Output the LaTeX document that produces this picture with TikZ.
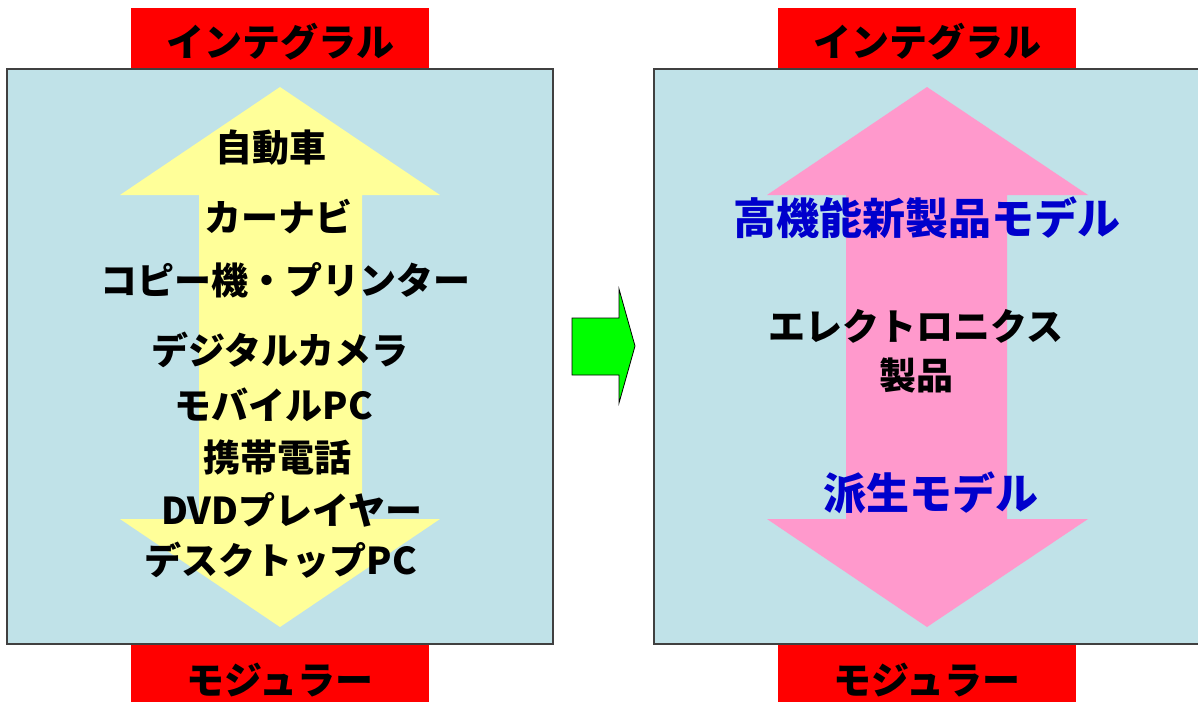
\documentclass[tikz,border=0pt]{standalone}
\usepackage{fontspec}
\setmainfont{Noto Sans CJK JP}
\definecolor{panelblue}{RGB}{192,226,232}
\definecolor{arrowyellow}{RGB}{255,255,153}
\definecolor{arrowpink}{RGB}{255,153,204}
\definecolor{labelred}{RGB}{255,0,0}
\definecolor{textblue}{RGB}{0,0,204}
\definecolor{arrowgreen}{RGB}{0,255,0}
\definecolor{bordergray}{RGB}{64,64,64}
\begin{document}
\begin{tikzpicture}[x=1pt,y=-1pt,
  panel/.style={fill=panelblue,draw=bordergray,line width=1.6pt},
  redlabel/.style={fill=labelred,draw=none},
  labeltext/.style={font=\fontsize{38}{42}\selectfont\bfseries,text=black,inner sep=0pt},
  item/.style={font=\fontsize{37}{42}\selectfont\bfseries,text=black,inner sep=0pt},
  blueitem/.style={font=\fontsize{43}{48}\selectfont\bfseries,text=textblue,inner sep=0pt}]
\useasboundingbox (0,0) rectangle (1198,702);
\fill[white] (0,0) rectangle (1198,702);
% left panel
\fill[redlabel] (131,8) rectangle (429,69);
\fill[redlabel] (131,644) rectangle (429,702);
\draw[panel] (7,69) rectangle (553,644);
\node[labeltext] (lt) at (280,42) {インテグラル};
\node[labeltext] (lb) at (280,680) {モジュラー};
\fill[arrowyellow] (280,87) -- (440,195) -- (362,195) -- (362,519) -- (440,519)
  -- (280,627) -- (120,519) -- (199,519) -- (199,195) -- (120,195) -- cycle;
\node[item] (l1) at (271,148) {自動車};
\node[item] (l2) at (278,217) {カーナビ};
\node[item] (l3) at (285,280) {コピー機・プリンター};
\node[item] (l4) at (280,350) {デジタルカメラ};
\node[item] (l5) at (274,405) {モバイルPC};
\node[item] (l6) at (277,457) {携帯電話};
\node[item] (l7) at (292,510) {DVDプレイヤー};
\node[item] (l8) at (281,560) {デスクトップPC};
% right panel
\fill[redlabel] (778,8) rectangle (1076,69);
\fill[redlabel] (778,644) rectangle (1076,702);
\draw[panel] (654,69) rectangle (1200,644);
\node[labeltext] (rt) at (927,42) {インテグラル};
\node[labeltext] (rb) at (927,680) {モジュラー};
\fill[arrowpink] (927,87) -- (1088,195) -- (1007,195) -- (1007,519) -- (1088,519)
  -- (927,627) -- (767,519) -- (846,519) -- (846,195) -- (767,195) -- cycle;
\node[blueitem] (r1) at (927,218) {高機能新製品モデル};
\node[item] (r2) at (916,326) {エレクトロニクス};
\node[item] (r3) at (916,375) {製品};
\node[blueitem] (r4) at (931,493) {派生モデル};
% green arrow
\draw[fill=arrowgreen,draw=black,line width=0.8pt,line join=miter]
  (572,318) -- (619,318) -- (619,289) -- (635,346) -- (619,403) -- (619,375) -- (572,375) -- cycle;
\end{tikzpicture}
\end{document}
